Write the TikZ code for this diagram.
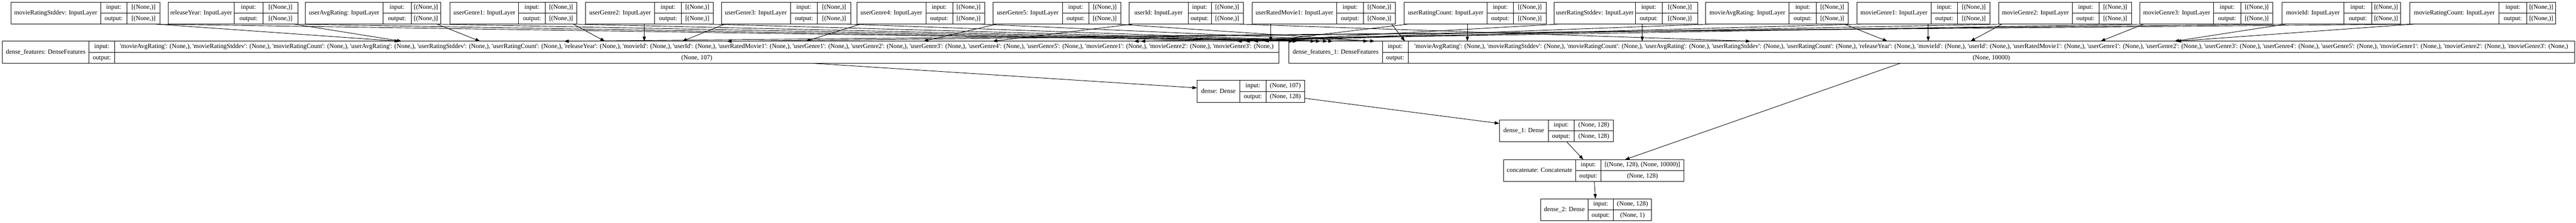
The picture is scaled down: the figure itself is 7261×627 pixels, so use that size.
\documentclass[tikz,border=0pt]{standalone}
\usepackage{fontspec}
\setmainfont{Liberation Serif}
\usetikzlibrary{arrows.meta,calc,positioning}
\tikzset{%
	layerbox/.style = {draw, rectangle, line width=1.2pt, inner sep=0pt, outer sep=0pt, anchor=north west, minimum height=62pt}, % whole record
	celltext/.style = {inner sep=0pt, text height=13pt, text depth=4pt, font=\fontsize{18}{22}\selectfont},
	divider/.style  = {line width=1pt},
	link/.style     = {line width=1.3pt, -{Triangle[length=13pt,width=9pt]}},
}
\newcommand{\qn}[1]{\textquotesingle#1\textquotesingle: (None,)}
\newcommand{\dfinput}{\qn{movieAvgRating}, \qn{movieRatingStddev}, \qn{movieRatingCount}, \qn{userAvgRating}, \qn{userRatingStddev}, \qn{userRatingCount}, \qn{releaseYear}, \qn{movieId}, \qn{userId}, \qn{userRatedMovie1}, \qn{userGenre1}, \qn{userGenre2}, \qn{userGenre3}, \qn{userGenre4}, \qn{userGenre5}, \qn{movieGenre1}, \qn{movieGenre2}, \qn{movieGenre3}}
% name, left, divider 1, divider 2, right, top, label, input, output
\newcommand{\kerasnode}[9]{%
	\node[layerbox, minimum width={#5-#2}] (#1) at (#2,#6) {};
	\draw[divider] (#3,#6) -- (#3,{#6+62});
	\draw[divider] (#4,#6) -- (#4,{#6+62});
	\draw[divider] (#3,{#6+31}) -- (#5,{#6+31});
	\node[celltext] (#1-lab) at ({(#2+#3)/2},{#6+31}) {#7};
	\node[celltext] (#1-in) at ({(#3+#4)/2},{#6+15.5}) {input:};
	\node[celltext] (#1-out) at ({(#3+#4)/2},{#6+46.5}) {output:};
	\node[celltext] (#1-iv) at ({(#4+#5)/2},{#6+15.5}) {#8};
	\node[celltext] (#1-ov) at ({(#4+#5)/2},{#6+46.5}) {#9};
}

\begin{document}
\begin{tikzpicture}[x=1pt, y=-1pt]
	\useasboundingbox (0,0) rectangle (7261,627);
	\kerasnode{df0}{7}{251}{323}{3605}{116}{dense\_features: DenseFeatures}{\dfinput}{(None, 107)}
	\kerasnode{df1}{3633}{3896}{3969}{7257}{116}{dense\_features\_1: DenseFeatures}{\dfinput}{(None, 10000)}
	\kerasnode{dense}{3374}{3495}{3568}{3678}{226}{dense: Dense}{(None, 107)}{(None, 128)}
	\kerasnode{dense1}{4226}{4364}{4437}{4548}{337}{dense\_1: Dense}{(None, 128)}{(None, 128)}
	\kerasnode{concat}{4238}{4441}{4513}{4746}{449}{concatenate: Concatenate}{[(None, 128), (None, 10000)]}{(None, 128)}
	\kerasnode{dense2}{4343}{4476}{4548}{4655}{559}{dense\_2: Dense}{(None, 128)}{(None, 1)}

	% inputs: name/label/left/div1/div2/right/target on df0/target on df1
	\foreach \n/\lab/\l/\da/\db/\r/\a/\b in {%
		mrs/movieRatingStddev/31/283/358/451/1125/3646,
		ry/releaseYear/474/660/741/840/1132/3657,
		uar/userAvgRating/861/1079/1159/1242/1353/3707,
		ugone/userGenre1/1269/1462/1537/1626/1705/3722,
		ugtwo/userGenre2/1651/1845/1921/2010/1816/3742,
		ugthree/userGenre3/2033/2228/2304/2398/1923/3757,
		ugfour/userGenre4/2415/2610/2685/2775/2271/3856,
		ugfive/userGenre5/2799/2995/3069/3159/2603/3875,
		uid/userId/3182/3349/3414/3504/2798/4934,
		urm/userRatedMovie1/3529/3768/3843/3933/3582/3960,
		urc/userRatingCount/3958/4192/4266/4358/3563/4136,
		urs/userRatingStddev/4381/4610/4685/4785/3533/4629,
		mar/movieAvgRating/4808/5043/5120/5209/3510/5320,
		mgone/movieGenre1/5234/5443/5518/5609/3487/5435,
		mgtwo/movieGenre2/5633/5841/5916/6008/3215/5554,
		mgthree/movieGenre3/6032/6239/6316/6406/3196/5921,
		mvid/movieId/6432/6607/6685/6766/2049/6129,
		mrc/movieRatingCount/6792/7044/7122/7204/1590/6135} {
		\kerasnode{\n}{\l}{\da}{\db}{\r}{6}{\lab: InputLayer}{[(None,)]}{[(None,)]}
		\pgfmathsetmacro{\sa}{min(max(\a,\l+10),\r-10)-\l}
		\pgfmathsetmacro{\sb}{min(max(\b,\l+10),\r-10)-\l}
		\draw[link] ($(\n.south west)+(\sa,0)$) -- ($(df0.north west)+({\a-7},0)$);
		\draw[link] ($(\n.south west)+(\sb,0)$) -- ($(df1.north west)+({\b-3633},0)$);
	}

	\draw[link] (df0) -- (dense);
	\draw[link] (dense) -- (dense1);
	\draw[link] (dense1) -- (concat);
	\draw[link] (df1) -- (concat);
	\draw[link] (concat) -- (dense2);
\end{tikzpicture}
\end{document}
